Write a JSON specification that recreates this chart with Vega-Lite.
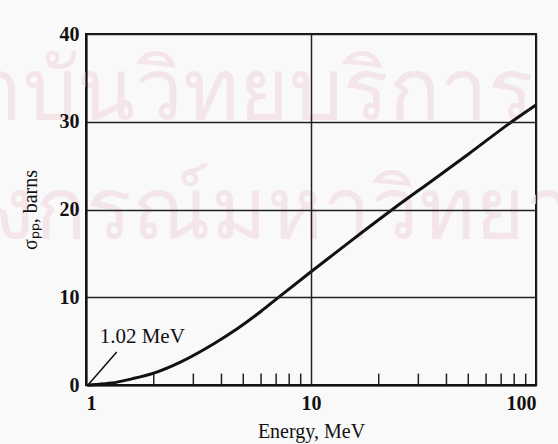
{
  "$schema": "https://vega.github.io/schema/vega-lite/v6.json",
  "width": 450,
  "height": 351,
  "autosize": {"type": "none"},
  "padding": {"left": 86, "top": 34, "right": 22, "bottom": 59},
  "background": "#f9f9f9",
  "config": {
    "view": {"stroke": "#111", "strokeWidth": 2},
    "font": "Liberation Serif",
    "axis": {
      "labelFont": "Liberation Serif",
      "titleFont": "Liberation Serif",
      "labelFontSize": 20,
      "labelFontWeight": "bold",
      "titleFontSize": 20,
      "labelColor": "#111",
      "titleColor": "#111",
      "titleFontWeight": "normal",
      "domainColor": "#111",
      "domainWidth": 2,
      "gridColor": "#222",
      "gridWidth": 1.5,
      "gridOpacity": 1,
      "ticks": false
    }
  },
  "datasets": {
    "curve": [
      {"energy": 1.02, "sigma": 0},
      {"energy": 1.1, "sigma": 0.05},
      {"energy": 1.3, "sigma": 0.22},
      {"energy": 1.6, "sigma": 0.7},
      {"energy": 2, "sigma": 1.35},
      {"energy": 2.6, "sigma": 2.55},
      {"energy": 3.7, "sigma": 4.7},
      {"energy": 4.7, "sigma": 6.4},
      {"energy": 6, "sigma": 8.4},
      {"energy": 7.1, "sigma": 9.9},
      {"energy": 10, "sigma": 12.9},
      {"energy": 15, "sigma": 16.4},
      {"energy": 23, "sigma": 20},
      {"energy": 35, "sigma": 23.4},
      {"energy": 50, "sigma": 26.3},
      {"energy": 78, "sigma": 30},
      {"energy": 100, "sigma": 31.9}
    ],
    "minorTicks": [
      {"energy": 2}, {"energy": 3}, {"energy": 4}, {"energy": 5}, {"energy": 6}, {"energy": 7}, {"energy": 8}, {"energy": 9},
      {"energy": 20}, {"energy": 30}, {"energy": 40}, {"energy": 50}, {"energy": 60}, {"energy": 70}, {"energy": 80}, {"energy": 90}
    ],
    "watermark": [
      {"energy": 98, "sigma": 30.3, "text": "สถาบันวิทยบริการ"},
      {"energy": 415, "sigma": 16.75, "text": "จุฬาลงกรณ์มหาวิทยาลัย"}
    ],
    "annotation": [
      {"energy": 1.15, "sigma": 5.5, "text": "1.02 MeV"}
    ],
    "pointer": [
      {"energy": 1.02, "sigma": 0},
      {"energy": 1.37, "sigma": 3.76}
    ]
  },
  "layer": [
    {
      "data": {"name": "watermark"},
      "mark": {"type": "text", "align": "right", "baseline": "alphabetic", "fontSize": 85, "color": "#f4e5e9", "font": "Noto Sans", "clip": false},
      "encoding": {
        "x": {"field": "energy", "type": "quantitative", "scale": {"type": "log", "domain": [1, 100]}},
        "y": {"field": "sigma", "type": "quantitative"},
        "text": {"field": "text"}
      }
    },
    {
      "data": {"name": "curve"},
      "mark": {"type": "line", "color": "#111", "strokeWidth": 3, "interpolate": "monotone"},
      "encoding": {
        "x": {
          "field": "energy", "type": "quantitative",
          "scale": {"type": "log", "domain": [1, 100], "nice": false},
          "axis": {"title": "Energy, MeV", "values": [1, 10, 100], "format": "d", "grid": true, "labelPadding": 8, "titlePadding": 8, "zindex": 2}
        },
        "y": {
          "field": "sigma", "type": "quantitative",
          "scale": {"domain": [0, 40], "nice": false},
          "axis": {"title": "σₚₚ, barns", "values": [0, 10, 20, 30, 40], "grid": true, "labelPadding": 7, "titlePadding": 19, "zindex": 2}
        }
      }
    },
    {
      "data": {"name": "minorTicks"},
      "mark": {"type": "rule", "color": "#222", "strokeWidth": 1.5},
      "encoding": {
        "x": {"field": "energy", "type": "quantitative"},
        "y": {"datum": 0},
        "y2": {"datum": 1.3}
      }
    },
    {
      "data": {"name": "pointer"},
      "mark": {"type": "line", "color": "#111", "strokeWidth": 1.5},
      "encoding": {
        "x": {"field": "energy", "type": "quantitative"},
        "y": {"field": "sigma", "type": "quantitative"}
      }
    },
    {
      "data": {"name": "annotation"},
      "mark": {"type": "text", "align": "left", "baseline": "middle", "fontSize": 21, "color": "#111", "font": "Liberation Serif"},
      "encoding": {
        "x": {"field": "energy", "type": "quantitative"},
        "y": {"field": "sigma", "type": "quantitative"},
        "text": {"field": "text"}
      }
    }
  ]
}
